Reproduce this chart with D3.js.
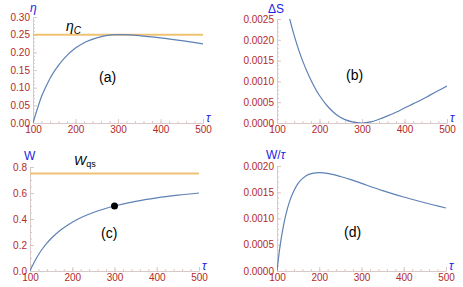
<!DOCTYPE html>
<html>
<head>
<meta charset="utf-8">
<script src="https://d3js.org/d3.v7.min.js"></script>
<style>
body, html {
  margin: 0;
  padding: 0;
  background: #fff;
  font-family: "Liberation Sans", Arial, sans-serif;
}
.domain { stroke: #d9c9c9; }
.tick line { stroke: #d9c9c9; }
.tick text { fill: #b22a2a; font-size: 10px; font-family: "Liberation Sans", Arial, sans-serif; }
.curve { fill: none; stroke: #5e81b5; stroke-width: 1.2; }
.ref { fill: none; stroke: #efc274; stroke-width: 2; }
.lab { fill: #2424e6; font-size: 12px; }
.tag { fill: #000; font-size: 14px; }
</style>
</head>
<body>
<div id="chart"></div>
<script>
// values
var tauEta = [100, 105, 110, 120, 130, 140, 150, 160, 175, 200, 225, 250, 275, 300, 325, 350, 400, 450, 500];
var etaVals = [0, 0.02, 0.039, 0.075, 0.102, 0.126, 0.146, 0.163, 0.185, 0.212, 0.230, 0.241, 0.248, 0.25, 0.2495, 0.2475, 0.241, 0.233, 0.224];
var etaC = 0.25;

var tauDS = [120, 140, 160, 180, 200, 220, 240, 260, 280, 300, 320, 340, 360, 380, 400, 420, 440, 460, 480, 500];
var dsVals = [0.0029, 0.00212, 0.0015, 0.00103, 0.00066, 0.00039, 0.0002, 0.00008, 0.00002, 0, 0.000025, 0.00009, 0.00017, 0.00026, 0.00036, 0.00046, 0.00056, 0.00067, 0.00078, 0.00089];

var tauW = [100, 105, 110, 120, 130, 140, 150, 160, 175, 200, 225, 250, 275, 300, 350, 400, 450, 500];
var wVals = [0, 0.0357, 0.068, 0.125, 0.173, 0.214, 0.25, 0.281, 0.321, 0.375, 0.417, 0.45, 0.477, 0.5, 0.536, 0.5625, 0.583, 0.6];
var wQs = 0.75;
var dotPoint = [300, 0.5];

var tauWr = [100, 105, 110, 120, 130, 140, 150, 160, 175, 200, 225, 250, 275, 300, 350, 400, 450, 500];
var wrVals = [0, 0.00034, 0.00062, 0.00104, 0.00133, 0.00153, 0.00167, 0.00176, 0.00184, 0.001875, 0.00185, 0.0018, 0.00174, 0.00167, 0.00153, 0.00141, 0.0013, 0.0012];

var tauTicks = [100, 200, 300, 400, 500];
var etaTicks = [0, 0.05, 0.10, 0.15, 0.20, 0.25, 0.30];
var dsTicks = [0, 0.0005, 0.0010, 0.0015, 0.0020, 0.0025];
var wTicks = [0, 0.2, 0.4, 0.6, 0.8];
var wrTicks = [0, 0.0005, 0.0010, 0.0015, 0.0020];

var svg = d3.select('#chart').append('svg')
  .attr('width', 463)
  .attr('height', 287);

// one panel = frame position + y settings
function panel(opt) {
  var x = d3.scaleLinear().domain([100, 500]).range([opt.x0, opt.x1]);
  var y = d3.scaleLinear().domain([0, opt.ymax]).range([opt.y0, opt.y1]);
  var g = svg.append('g');

  // minor ticks
  g.append('g')
    .attr('transform', 'translate(0,' + opt.y0 + ')')
    .call(d3.axisBottom(x).tickValues(d3.range(100, 501, 20)).tickSize(-2).tickFormat(''))
    .select('.domain').remove();
  g.append('g')
    .attr('transform', 'translate(' + opt.x0 + ',0)')
    .call(d3.axisLeft(y).tickValues(d3.range(0, opt.ymax + opt.minor / 2, opt.minor)).tickSize(-2).tickFormat(''))
    .select('.domain').remove();

  // major ticks
  g.append('g')
    .attr('transform', 'translate(0,' + opt.y0 + ')')
    .call(d3.axisBottom(x).tickValues(tauTicks).tickSize(-4).tickSizeOuter(0).tickPadding(3).tickFormat(d3.format('d')));
  g.append('g')
    .attr('transform', 'translate(' + opt.x0 + ',0)')
    .call(d3.axisLeft(y).tickValues(opt.ticks).tickSize(-4).tickSizeOuter(0).tickPadding(3).tickFormat(d3.format(opt.fmt)));

  svg.selectAll('.tick text').attr('font-size', null);

  var clipId = 'clip' + opt.name;
  svg.append('clipPath').attr('id', clipId)
    .append('rect')
    .attr('x', opt.x0).attr('y', opt.y1)
    .attr('width', opt.x1 - opt.x0).attr('height', opt.y0 - opt.y1);

  if (opt.ref != null) {
    g.append('line').attr('class', 'ref')
      .attr('x1', x(100)).attr('x2', x(500))
      .attr('y1', y(opt.ref)).attr('y2', y(opt.ref));
  }

  var line = d3.line()
    .x(function(d) { return x(d[0]); })
    .y(function(d) { return y(d[1]); })
    .curve(d3.curveCatmullRom.alpha(0.5));

  g.append('path').attr('class', 'curve')
    .attr('clip-path', 'url(#' + clipId + ')')
    .datum(d3.zip(opt.xs, opt.ys))
    .attr('d', line);

  // axis end label tau
  g.append('text').attr('class', 'lab')
    .attr('x', opt.x1 + 3).attr('y', opt.y0 - 1)
    .attr('font-style', 'italic')
    .text('τ');

  return { x: x, y: y, g: g };
}

var a = panel({ name: 'a', x0: 33, x1: 203, y0: 123, y1: 17, ymax: 0.30, minor: 0.01,
  ticks: etaTicks, fmt: '.2f', xs: tauEta, ys: etaVals, ref: etaC });
a.g.append('text').attr('class', 'lab').attr('x', 30).attr('y', 12)
  .attr('font-style', 'italic').attr('font-size', 14).text('η');
var t = a.g.append('text').attr('x', 66).attr('y', 31).attr('font-size', 14).attr('font-style', 'italic');
t.append('tspan').text('η');
t.append('tspan').attr('font-size', 10).attr('dy', 3).text('C');
a.g.append('text').attr('class', 'tag').attr('x', 99).attr('y', 82).text('(a)');

var b = panel({ name: 'b', x0: 277, x1: 447, y0: 123, y1: 19, ymax: 0.0025, minor: 0.0001,
  ticks: dsTicks, fmt: '.4f', xs: tauDS, ys: dsVals, ref: null });
b.g.append('text').attr('class', 'lab').attr('x', 268).attr('y', 13).text('ΔS');
b.g.append('text').attr('class', 'tag').attr('x', 346).attr('y', 80).text('(b)');

var c = panel({ name: 'c', x0: 30, x1: 199, y0: 271, y1: 167, ymax: 0.8, minor: 0.05,
  ticks: wTicks, fmt: '.1f', xs: tauW, ys: wVals, ref: wQs });
c.g.append('text').attr('class', 'lab').attr('x', 24).attr('y', 160).text('W');
var tw = c.g.append('text').attr('x', 74).attr('y', 165).attr('font-size', 13);
tw.append('tspan').attr('font-style', 'italic').text('W');
tw.append('tspan').attr('font-size', 9).attr('dy', 2).text('qs');
c.g.append('circle')
  .attr('cx', c.x(dotPoint[0])).attr('cy', c.y(dotPoint[1])).attr('r', 3.5)
  .attr('fill', '#000');
c.g.append('text').attr('class', 'tag').attr('x', 101).attr('y', 238).text('(c)');

var d = panel({ name: 'd', x0: 277, x1: 446, y0: 271, y1: 166, ymax: 0.0020, minor: 0.0001,
  ticks: wrTicks, fmt: '.4f', xs: tauWr, ys: wrVals, ref: null });
var tr = d.g.append('text').attr('class', 'lab').attr('x', 266).attr('y', 159);
tr.append('tspan').text('W/');
tr.append('tspan').attr('font-style', 'italic').text('τ');
d.g.append('text').attr('class', 'tag').attr('x', 344).attr('y', 237).text('(d)');
</script>
</body>
</html>
